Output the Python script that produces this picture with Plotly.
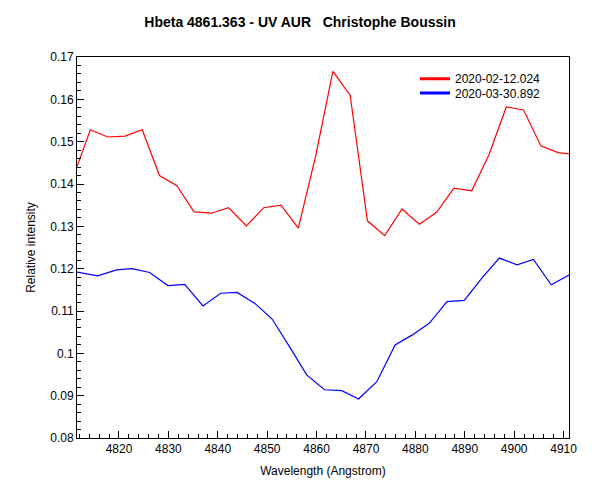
import plotly.graph_objects as go

# Wavelengths (Angstrom) and relative intensities
wl_red = [4811.5, 4814.2, 4817.7, 4821.2, 4824.7, 4828.2, 4831.7, 4835.2, 4838.7,
          4842.2, 4845.8, 4849.3, 4852.8, 4856.3, 4859.8, 4863.3, 4866.8, 4870.3,
          4873.8, 4877.3, 4880.8, 4884.3, 4887.8, 4891.4, 4894.9, 4898.4, 4901.9,
          4905.4, 4908.9, 4911.1]
int_red = [0.1441, 0.1528, 0.1511, 0.1513, 0.1528, 0.1420, 0.1396, 0.1334, 0.1331,
           0.1344, 0.1301, 0.1344, 0.1350, 0.1296, 0.1465, 0.1666, 0.1609, 0.1313,
           0.1278, 0.1341, 0.1305, 0.1333, 0.1390, 0.1384, 0.1469, 0.1582, 0.1575,
           0.1490, 0.1474, 0.1471]

wl_blue = [4811.5, 4815.7, 4819.5, 4822.7, 4826.2, 4829.9, 4833.3, 4837.0, 4840.6,
           4843.9, 4847.5, 4851.0, 4854.6, 4858.0, 4861.6, 4865.1, 4868.5, 4872.2,
           4875.9, 4879.3, 4882.8, 4886.4, 4889.9, 4893.5, 4897.0, 4900.6, 4903.9,
           4907.5, 4911.1]
int_blue = [0.1192, 0.1183, 0.1197, 0.1200, 0.1191, 0.1160, 0.1163, 0.1112, 0.1142,
            0.1144, 0.1118, 0.1081, 0.1014, 0.0949, 0.0914, 0.0912, 0.0892, 0.0933,
            0.1020, 0.1043, 0.1071, 0.1122, 0.1125, 0.1178, 0.1225, 0.1209, 0.1222,
            0.1162, 0.1185]

name_red = "2020-02-12.024"
name_blue = "2020-03-30.892"

x_tickvals = [4820, 4830, 4840, 4850, 4860, 4870, 4880, 4890, 4900, 4910]
x_ticktext = ["4820", "4830", "4840", "4850", "4860", "4870", "4880", "4890", "4900", "4910"]
y_tickvals = [0.08, 0.09, 0.10, 0.11, 0.12, 0.13, 0.14, 0.15, 0.16, 0.17]
y_ticktext = ["0.08", "0.09", "0.1", "0.11", "0.12", "0.13", "0.14", "0.15", "0.16", "0.17"]

FONT = "Liberation Sans, Arial, sans-serif"
W, H = 592, 492  # page body has an 8px margin in the 600x500 window

fig = go.Figure()
fig.add_trace(go.Scatter(x=wl_red, y=int_red, mode="lines", showlegend=False,
                         line=dict(color="#ff0000", width=1.2)))
fig.add_trace(go.Scatter(x=wl_blue, y=int_blue, mode="lines", showlegend=False,
                         line=dict(color="#0000ff", width=1.2)))
# legend entries with thicker sample lines
fig.add_trace(go.Scatter(x=[None], y=[None], mode="lines", name=name_red,
                         legend="legend",
                         line=dict(color="#ff0000", width=3)))
fig.add_trace(go.Scatter(x=[None], y=[None], mode="lines", name=name_blue,
                         legend="legend2",
                         line=dict(color="#0000ff", width=3)))

leg_common = dict(xanchor="left", yanchor="top", bgcolor="rgba(0,0,0,0)",
                  borderwidth=0, itemwidth=30,
                  font=dict(family=FONT, size=12, color="black"))

fig.update_layout(
    width=W, height=H,
    margin=dict(l=69, r=31, t=49, b=62, autoexpand=False),
    paper_bgcolor="white", plot_bgcolor="white",
    font=dict(family=FONT, size=12, color="black"),
    title=dict(text="<b>Hbeta 4861.363 - UV AUR   Christophe Boussin</b>",
               x=292 / W, xanchor="center", y=1 - 14 / H, yanchor="middle",
               xref="container", yref="container",
               font=dict(family=FONT, size=14, color="black")),
    legend=dict(x=0.687, y=0.981, **leg_common),
    legend2=dict(x=0.687, y=0.9435, **leg_common),
    xaxis=dict(range=[4811.5, 4911.1], tickvals=x_tickvals, ticktext=x_ticktext,
               ticks="inside", ticklen=7, tickwidth=1, tickcolor="black",
               minor=dict(dtick=2, tick0=4810, ticks="inside", ticklen=4,
                          tickwidth=1, tickcolor="black", showgrid=False),
               showline=True, linecolor="black", linewidth=1, mirror=True,
               showgrid=False, zeroline=False,
               title=dict(text="Wavelength (Angstrom)", standoff=11,
                          font=dict(family=FONT, size=12, color="black"))),
    yaxis=dict(range=[0.08, 0.17], tickvals=y_tickvals, ticktext=y_ticktext,
               ticks="inside", ticklen=7, tickwidth=1, tickcolor="black",
               minor=dict(dtick=0.002, tick0=0.08, ticks="inside", ticklen=4,
                          tickwidth=1, tickcolor="black", showgrid=False),
               showline=True, linecolor="black", linewidth=1, mirror=True,
               showgrid=False, zeroline=False,
               title=dict(text="Relative intensity", standoff=12,
                          font=dict(family=FONT, size=12, color="black"))),
)

fig.write_html("out.html")
